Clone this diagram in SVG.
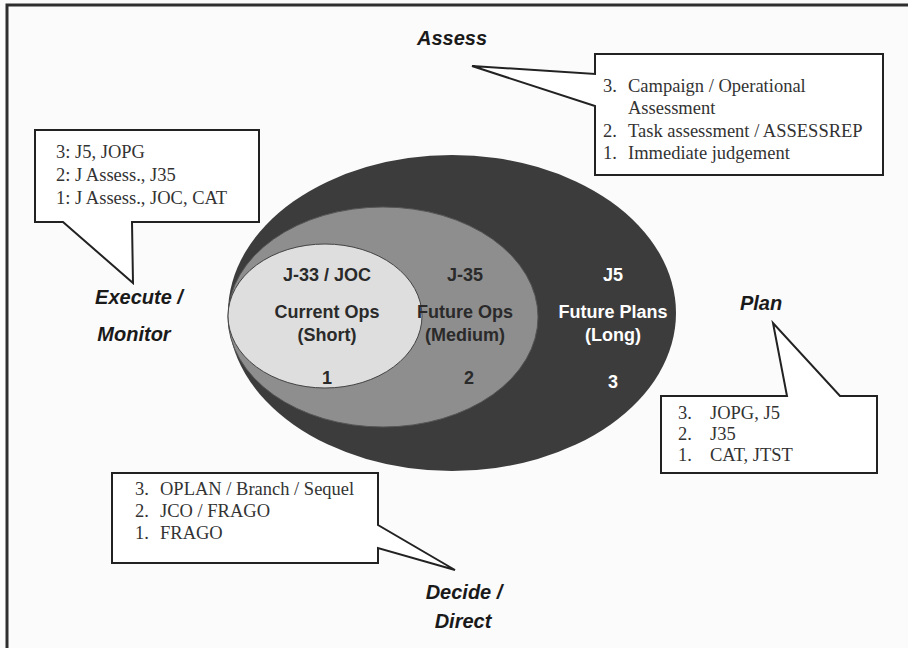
<svg xmlns="http://www.w3.org/2000/svg" width="908" height="648" viewBox="0 0 908 648">
<style>
.lbl{font-family:"Liberation Sans",Arial,sans-serif;font-weight:bold;font-style:italic;font-size:20px;fill:#1a1a1a;text-anchor:middle}
.in{font-family:"Liberation Sans",Arial,sans-serif;font-weight:bold;font-size:18px;text-anchor:middle}
.dk{fill:#2a2a2a}
.wt{fill:#ffffff}
.box{fill:#ffffff;stroke:#222;stroke-width:2}
.tx{font-family:"Liberation Serif","Times New Roman",serif;font-size:18.5px;fill:#333}
</style>
<rect x="0" y="0" width="908" height="648" fill="#fbfbfb"/>
<path d="M7 648 V5 H908" fill="none" stroke="#2e2e2e" stroke-width="3"/>

<g id="ellipses">
  <ellipse id="long" cx="452" cy="313" rx="224" ry="158" fill="#3c3c3c"/>
  <ellipse id="medium" cx="383" cy="317" rx="155" ry="110" fill="#8e8e8e" stroke="#555" stroke-width="1"/>
  <ellipse id="short" cx="325" cy="316" rx="97" ry="72" fill="#dedede" stroke="#444" stroke-width="1"/>
</g>

<g id="node-short">
  <text class="in dk" x="327" y="281">J-33 / JOC</text>
  <text class="in dk" x="327" y="318">Current Ops</text>
  <text class="in dk" x="327" y="341">(Short)</text>
  <text class="in dk" x="327" y="384">1</text>
</g>
<g id="node-medium">
  <text class="in dk" x="465" y="281">J-35</text>
  <text class="in dk" x="465" y="318">Future Ops</text>
  <text class="in dk" x="465" y="341">(Medium)</text>
  <text class="in dk" x="469" y="384">2</text>
</g>
<g id="node-long">
  <text class="in wt" x="613" y="281">J5</text>
  <text class="in wt" x="613" y="318">Future Plans</text>
  <text class="in wt" x="613" y="341">(Long)</text>
  <text class="in wt" x="613" y="388">3</text>
</g>

<g id="callouts">
  <path class="box" d="M595 54 H883 V175 H595 V106 L472 66 L595 74 Z"/>
  <path class="box" d="M35 130 H259 V222 H132 L133 283 L63 222 H35 Z"/>
  <path class="box" d="M661 396 H787 L773 323 L840 396 H877 V473 H661 Z"/>
  <path class="box" d="M112 473 H378 V525 L455 570 L378 548 V563 H112 Z"/>
</g>

<g id="node-assess">
  <text class="lbl" x="452" y="45">Assess</text>
  <text class="tx" x="603" y="92">3.</text><text class="tx" x="628" y="92">Campaign / Operational</text>
  <text class="tx" x="628" y="114">Assessment</text>
  <text class="tx" x="603" y="137">2.</text><text class="tx" x="628" y="137">Task assessment / ASSESSREP</text>
  <text class="tx" x="603" y="159">1.</text><text class="tx" x="628" y="159">Immediate judgement</text>
</g>

<g id="node-execute">
  <text class="lbl" x="139" y="304">Execute /</text>
  <text class="lbl" x="134" y="341">Monitor</text>
  <text class="tx" x="56" y="158">3: J5, JOPG</text>
  <text class="tx" x="56" y="181">2: J Assess., J35</text>
  <text class="tx" x="56" y="204">1: J Assess., JOC, CAT</text>
</g>

<g id="node-plan">
  <text class="lbl" x="761" y="310">Plan</text>
  <text class="tx" x="678" y="419">3.</text><text class="tx" x="710" y="419">JOPG, J5</text>
  <text class="tx" x="678" y="440">2.</text><text class="tx" x="710" y="440">J35</text>
  <text class="tx" x="678" y="461">1.</text><text class="tx" x="710" y="461">CAT, JTST</text>
</g>

<g id="node-decide">
  <text class="lbl" x="464" y="599">Decide /</text>
  <text class="lbl" x="463" y="628">Direct</text>
  <text class="tx" x="135" y="495">3.</text><text class="tx" x="160" y="495">OPLAN / Branch / Sequel</text>
  <text class="tx" x="135" y="517">2.</text><text class="tx" x="160" y="517">JCO / FRAGO</text>
  <text class="tx" x="135" y="539">1.</text><text class="tx" x="160" y="539">FRAGO</text>
</g>
</svg>
